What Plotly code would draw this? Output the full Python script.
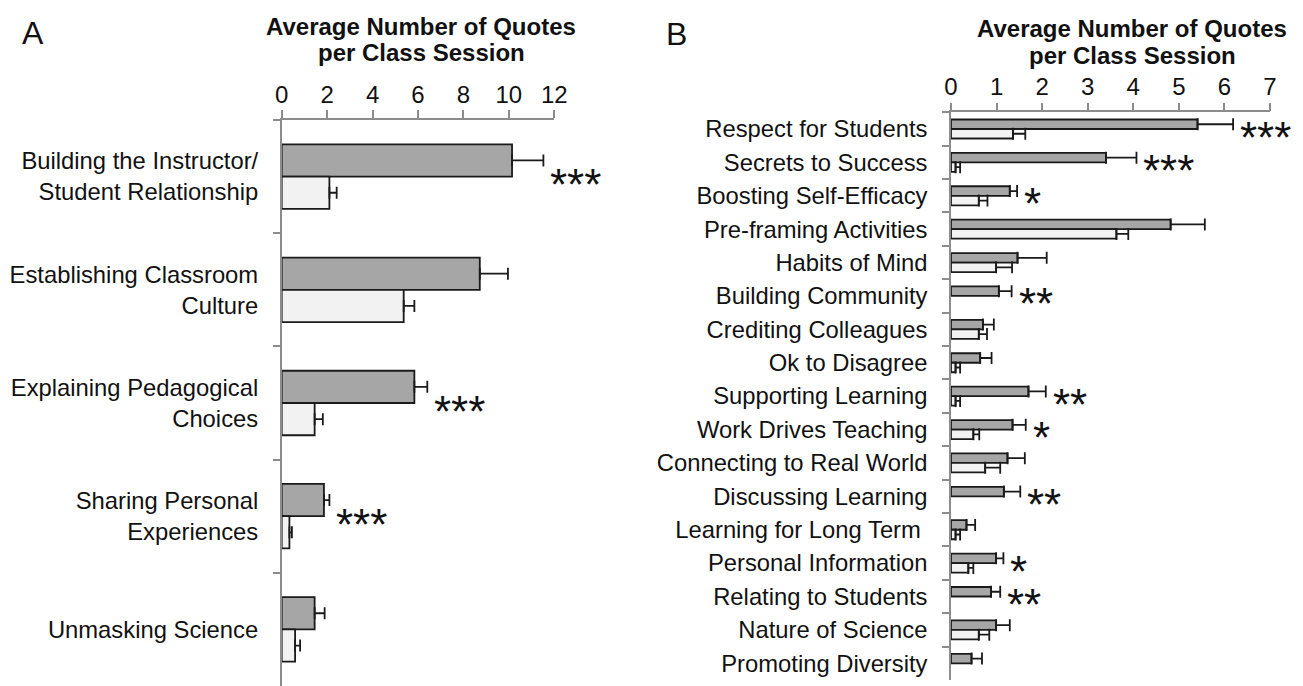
import plotly.graph_objects as go

# ---------------- Data ----------------
cats_a = ["Building the Instructor/<br>Student Relationship",
          "Establishing Classroom<br>Culture",
          "Explaining Pedagogical<br>Choices",
          "Sharing Personal<br>Experiences",
          "Unmasking Science"]
dark_a = [10.14, 8.72, 5.84, 1.86, 1.45]
dark_a_err = [1.38, 1.24, 0.57, 0.24, 0.44]
light_a = [2.10, 5.37, 1.45, 0.34, 0.59]
light_a_err = [0.32, 0.47, 0.36, 0.11, 0.22]
stars_a = ["***", "", "***", "***", ""]

cats_b = ["Respect for Students", "Secrets to Success", "Boosting Self-Efficacy",
          "Pre-framing Activities", "Habits of Mind", "Building Community",
          "Crediting Colleagues", "Ok to Disagree", "Supporting Learning",
          "Work Drives Teaching", "Connecting to Real World", "Discussing Learning",
          "Learning for Long Term ", "Personal Information", "Relating to Students",
          "Nature of Science", "Promoting Diversity"]
dark_b = [5.41, 3.40, 1.29, 4.82, 1.46, 1.05, 0.70, 0.64, 1.70, 1.35, 1.24, 1.16,
          0.34, 0.99, 0.88, 0.99, 0.45]
dark_b_err = [0.78, 0.67, 0.16, 0.75, 0.64, 0.28, 0.24, 0.25, 0.38, 0.29, 0.38, 0.36,
              0.19, 0.16, 0.20, 0.30, 0.23]
light_b = [1.36, 0.10, 0.61, 3.63, 0.99, None, 0.61, 0.10, 0.10, 0.49, 0.75, None,
           0.10, 0.38, None, 0.61, None]
light_b_err = [0.27, 0.10, 0.19, 0.26, 0.35, None, 0.18, 0.10, 0.10, 0.13, 0.33, None,
               0.10, 0.11, None, 0.23, None]
stars_b = ["***", "***", "*", "", "", "**", "", "", "**", "*", "", "**",
           "", "*", "**", "", ""]

ticks_a = [0, 2, 4, 6, 8, 10, 12]
ticks_b = [0, 1, 2, 3, 4, 5, 6, 7]

title_line1 = "Average Number of Quotes"
title_line2 = "per Class Session"

# ---------------- Styles ----------------
DARK = "#a6a6a6"
LIGHT = "#f2f2f2"
EDGE = "#1a1a1a"
AXIS = "#8c8c8c"
FONT = "Liberation Sans, Arial, sans-serif"
W, H = 1303, 686

fig = go.Figure()


def add_pair(cats, dark, dark_err, light, light_err, xa, ya):
    fig.add_trace(go.Bar(
        y=cats, x=dark, orientation="h", xaxis=xa, yaxis=ya,
        marker=dict(color=DARK, line=dict(color=EDGE, width=1.8)),
        error_x=dict(type="data", array=dark_err, arrayminus=[0] * len(dark),
                     symmetric=False, color=EDGE, thickness=1.8, width=6),
        showlegend=False, hoverinfo="x+y"))
    fig.add_trace(go.Bar(
        y=cats, x=light, orientation="h", xaxis=xa, yaxis=ya,
        marker=dict(color=LIGHT, line=dict(color=EDGE, width=1.8)),
        error_x=dict(type="data", array=light_err, arrayminus=[0] * len(light),
                     symmetric=False, color=EDGE, thickness=1.8, width=6),
        showlegend=False, hoverinfo="x+y"))


add_pair(cats_a, dark_a, dark_a_err, light_a, light_a_err, "x", "y")
add_pair(cats_b, dark_b, dark_b_err, light_b, light_b_err, "x2", "y2")

# significance stars
for cats, dark, derr, stars, xr, yr in [(cats_a, dark_a, dark_a_err, stars_a, "x", "y"),
                                         (cats_b, dark_b, dark_b_err, stars_b, "x2", "y2")]:
    for c, v, e, s in zip(cats, dark, derr, stars):
        if s:
            fig.add_annotation(x=v + e, y=c, xref=xr, yref=yr, text=s,
                               showarrow=False, xanchor="left", yanchor="middle",
                               xshift=5, yshift=-8,
                               font=dict(family=FONT, size=44, color="#111"))

xa_dom = [281.7 / W, 554.3 / W]
xb_dom = [951.0 / W, 1270.0 / W]
ya_dom = [0.0, 1 - 120.0 / H]
yb_dom = [1 - 680.0 / H, 1 - 112.3 / H]

xcommon = dict(side="top", showline=True, linecolor=AXIS, linewidth=1.5,
               ticks="outside", ticklen=8, tickcolor=AXIS, tickwidth=1.5,
               showgrid=False, zeroline=False, automargin=False,
               ticklabelstandoff=-2,
               tickfont=dict(family=FONT, size=24, color="#111"))
ycommon = dict(showline=True, linecolor=AXIS, linewidth=1.5,
               ticks="outside", ticklen=7, tickcolor=AXIS, tickwidth=1.5,
               tickson="boundaries", showgrid=False, zeroline=False,
               automargin=False, ticklabelstandoff=17,
               tickfont=dict(family=FONT, size=23.8, color="#111"))

fig.update_layout(
    width=W, height=H,
    margin=dict(l=0, r=0, t=0, b=0, pad=0, autoexpand=False),
    paper_bgcolor="white", plot_bgcolor="white",
    barmode="group", bargap=0.43, bargroupgap=0,
    xaxis=dict(domain=xa_dom, range=[0, 12], tickvals=ticks_a, anchor="y", **xcommon),
    yaxis=dict(domain=ya_dom, range=[4.5, -0.5], type="category",
               categoryorder="array", categoryarray=cats_a, anchor="x", **ycommon),
    xaxis2=dict(domain=xb_dom, range=[0, 7], tickvals=ticks_b, anchor="y2", **xcommon),
    yaxis2=dict(domain=yb_dom, range=[16.5, -0.5], type="category",
                categoryorder="array", categoryarray=cats_b, anchor="x2", **ycommon),
)

# panel titles and letters
for cx, y1, y2 in [(421, 27, 53), (1132, 29, 55)]:
    fig.add_annotation(x=cx / W, y=1 - y1 / H, xref="paper", yref="paper",
                       text="<b>" + title_line1 + "</b>", showarrow=False,
                       xanchor="center", yanchor="middle",
                       font=dict(family=FONT, size=24, color="#111"))
    fig.add_annotation(x=cx / W, y=1 - y2 / H, xref="paper", yref="paper",
                       text="<b>" + title_line2 + "</b>", showarrow=False,
                       xanchor="center", yanchor="middle",
                       font=dict(family=FONT, size=24, color="#111"))
fig.add_annotation(x=33 / W, y=1 - 33 / H, xref="paper", yref="paper", text="A",
                   showarrow=False, xanchor="center", yanchor="middle",
                   font=dict(family=FONT, size=32, color="#111"))
fig.add_annotation(x=676 / W, y=1 - 34 / H, xref="paper", yref="paper", text="B",
                   showarrow=False, xanchor="center", yanchor="middle",
                   font=dict(family=FONT, size=32, color="#111"))

fig.write_html("out.html",
               config={"displayModeBar": False},
               post_script="document.body.style.margin='0';"
                           "document.body.style.overflow='hidden';")
